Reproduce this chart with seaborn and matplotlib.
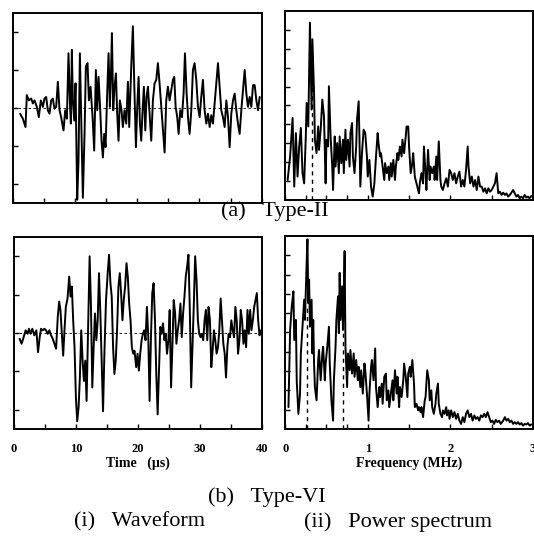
"""
Waveform and power spectrum of Type-II and Type-VI signals.
"""

import numpy as np
import pandas as pd
import matplotlib
matplotlib.use("Agg")
import matplotlib.pyplot as plt
import seaborn as sns

# ---- Type-II waveform (time in us, amplitude) ----
wave2_t = [1.18, 1.61, 2.04, 2.25, 2.57, 2.95, 3.22, 3.49, 3.86, 4.18, 4.50, 4.83, 5.09, 5.36, 5.63,
           5.90, 6.17, 6.43, 6.70, 6.97, 7.24, 7.51, 7.77, 8.15, 8.42, 8.69, 8.95, 9.17, 9.33, 9.49,
           9.65, 9.87, 10.08, 10.35, 10.56, 10.78, 10.99, 11.26, 11.53, 11.74, 12.01, 12.23, 12.49,
           12.82, 13.08, 13.35, 13.57, 13.78, 14.05, 14.26, 14.48, 14.69, 14.91, 15.17, 15.39, 15.60,
           15.76, 15.93, 16.14, 16.35, 16.57, 16.78, 16.99, 17.21, 17.48, 17.69, 17.96, 18.23, 18.50,
           18.71, 19.04, 19.30, 19.52, 19.79, 20.00, 20.22, 20.43, 20.64, 20.86, 21.07, 21.29, 21.50,
           21.72, 21.98, 22.25, 22.52, 22.79, 23.06, 23.32, 23.59, 23.86, 24.13, 24.40, 24.66, 24.93,
           25.20, 25.47, 25.74, 25.95, 26.17, 26.43, 26.65, 26.92, 27.19, 27.45, 27.67, 27.94, 28.20,
           28.42, 28.69, 28.95, 29.22, 29.49, 29.76, 30.03, 30.29, 30.56, 30.83, 31.10, 31.37, 31.64,
           31.90, 32.17, 32.44, 32.71, 32.98, 33.24, 33.51, 33.78, 34.05, 34.32, 34.59, 34.85, 35.12,
           35.39, 35.66, 35.93, 36.19, 36.46, 36.73, 37.00, 37.27, 37.54, 37.80, 38.07, 38.34, 38.61,
           38.88, 39.15, 39.41, 39.68]
wave2_v = [-0.16, -0.29, -0.51, 0.33, 0.19, 0.24, 0.11, 0.19, 0.02, -0.25, 0.19, 0.02, 0.24, 0.28, -0.07,
           -0.16, 0.19, 0.24, -0.03, 0.02, 0.68, -0.07, -0.25, -0.60, -0.07, -0.29, 1.43, 0.19, -0.42, 1.52,
           0.19, -0.34, 0.64, -2.42, -1.40, 1.43, -0.25, -2.37, -0.69, 1.08, 1.17, 0.19, 0.55,
           -0.25, -1.13, 0.99, -0.07, 0.81, -0.07, -0.87, -1.31, -0.69, -1.04, 0.37, 1.43, 0.02,
           0.81, 1.96, -0.07, 0.55, 0.90, -0.16, -0.87, 0.19, -0.07, -0.51, -0.07, -0.42, 0.68,
           -0.51, 1.08, 2.14, 0.64, -1.04, 0.02, 0.81, -0.42, -0.87, -0.07, 0.55, -0.60, 0.28,
           0.55, -0.16, -0.87, 0.19, 0.64, 0.73, 1.17, 0.64, 0.02, -0.60, -1.18, 0.19, 0.55,
           0.19, 0.46, 0.73, 0.81, 0.02, -0.25, -0.69, -0.07, -0.25, 0.37, 1.43, 0.37, -0.34,
           -0.69, -0.07, 0.99, 1.17, 0.73, 0.02, -0.25, 0.28, 0.73, -0.07, -0.42, -0.16, -0.51,
           -0.20, -0.42, 0.11, 0.64, 1.17, 0.55, -0.07, -0.25, -0.51, 0.19, -0.25, -1.04, -0.16,
           0.19, 0.37, -0.07, -0.42, -0.69, -0.07, 0.46, 0.99, 0.37, 0.02, 0.28, 0.02, 0.59,
           0.59, 0.19, -0.07, 0.28]

# ---- Type-VI waveform ----
wave6_t = [0.92, 1.24, 1.57, 1.89, 2.21, 2.43, 2.70, 2.97, 3.29, 3.62, 3.89, 4.16, 4.37, 4.64, 4.91,
           5.18, 5.45, 5.72, 5.99, 6.26, 6.53, 6.80, 7.07, 7.29, 7.50, 7.72, 7.94, 8.15, 8.37, 8.64,
           8.91, 9.12, 9.34, 9.55, 9.77, 9.99, 10.20, 10.42, 10.63, 10.85, 11.07, 11.28, 11.50, 11.71,
           11.93, 12.20, 12.42, 12.63, 12.85, 13.06, 13.28, 13.50, 13.71, 13.93, 14.14, 14.36, 14.58,
           14.84, 15.11, 15.33, 15.55, 15.76, 15.98, 16.19, 16.41, 16.62, 16.84, 17.06, 17.27, 17.49,
           17.70, 17.92, 18.14, 18.35, 18.57, 18.79, 19.00, 19.22, 19.43, 19.70, 19.92, 20.13, 20.35,
           20.57, 20.78, 21.00, 21.21, 21.43, 21.65, 21.86, 22.08, 22.29, 22.51, 22.73, 22.94, 23.16,
           23.37, 23.59, 23.81, 24.02, 24.24, 24.45, 24.67, 24.89, 25.10, 25.32, 25.53, 25.75, 25.97,
           26.18, 26.40, 26.61, 26.83, 27.04, 27.26, 27.48, 27.69, 27.91, 28.12, 28.34, 28.56, 28.77,
           28.99, 29.20, 29.42, 29.64, 29.85, 30.07, 30.28, 30.50, 30.72, 30.93, 31.15, 31.36, 31.58,
           31.80, 32.01, 32.23, 32.44, 32.66, 32.88, 33.09, 33.31, 33.52, 33.74, 33.96, 34.17, 34.39,
           34.60, 34.82, 35.03, 35.25, 35.47, 35.68, 35.90, 36.11, 36.33, 36.55, 36.76, 36.98, 37.19,
           37.41, 37.63, 37.84, 38.06, 38.27, 38.49, 38.71, 38.92, 39.14, 39.35, 39.57, 39.78]
wave6_v = [-0.15, -0.28, -0.11, 0.07, -0.02, 0.11, -0.02, 0.11, -0.06, 0.07, -0.50, -0.11, 0.11, 0.07, 0.11,
           0.07, -0.02, 0.07, -0.06, -0.15, -0.28, -0.41, 0.42, 0.82, 0.60, -0.02, -0.59, 0.07, 0.68, 0.90,
           1.47, 0.95, 1.21, 0.33, -0.37, -1.68, -2.30, -1.95, -1.16, 0.07, -0.72, -1.25, -0.72, -1.77,
           -0.11, 2.00, 0.68, -1.42, -0.37, 0.51, -0.19, 0.33, 1.56, 0.51, -0.72, -2.04, -0.54,
           0.86, 1.56, 2.04, 1.30, 0.95, -0.37, -1.07, -0.72, 0.07, 1.21, 1.56, 1.04, 0.33,
           0.86, 1.21, 1.82, 1.47, 0.77, 0.33, -0.37, -0.54, -0.46, -0.89, -0.54, -0.98, -0.54,
           -0.19, -0.02, 0.07, -0.19, 0.68, -0.11, -1.77, -0.11, 1.04, 1.30, 0.33, -1.07, -2.12,
           -0.98, 0.16, -0.02, 0.25, -0.19, -0.02, -0.54, -0.19, 0.60, -1.42, -0.37, 0.86, 0.51,
           -0.28, 0.07, 0.33, 0.77, -0.11, 0.51, 0.95, 1.47, 1.74, 2.04, 0.60, -1.42, -0.37,
           0.77, 2.00, 1.39, 0.33, -0.02, -0.11, -0.02, -0.19, 0.33, 0.60, -0.19, 0.68, 0.33,
           -0.89, -0.46, 0.07, -0.19, -0.54, -0.37, 0.07, 0.90, 0.33, -0.28, -0.54, -1.16, -0.37,
           -0.02, -0.11, 0.33, 0.07, -0.11, 0.68, 0.33, -0.54, -0.19, 0.60, 0.33, -0.28, 0.07,
           -0.37, 0.60, -0.02, 0.60, 0.07, 0.33, 0.68, 0.86, 1.04, 0.33, -0.06, 0.07]

# ---- Type-II power spectrum (MHz, arbitrary units) ----
spec2_f = [0.03, 0.06, 0.09, 0.11, 0.13, 0.15, 0.17, 0.19, 0.21, 0.23, 0.25, 0.26, 0.28, 0.30, 0.31,
           0.32, 0.33, 0.35, 0.36, 0.38, 0.40, 0.41, 0.43, 0.45, 0.47, 0.49, 0.50, 0.52, 0.53, 0.55,
           0.57, 0.58, 0.60, 0.61, 0.63, 0.65, 0.66, 0.68, 0.70, 0.71, 0.73, 0.74, 0.76, 0.78, 0.79,
           0.81, 0.82, 0.84, 0.86, 0.87, 0.89, 0.90, 0.91, 0.93, 0.95, 0.97, 0.99, 1.00, 1.02, 1.04,
           1.06, 1.08, 1.10, 1.12, 1.13, 1.15, 1.16, 1.18, 1.20, 1.21, 1.23, 1.25, 1.26, 1.28, 1.29,
           1.31, 1.33, 1.34, 1.36, 1.37, 1.39, 1.41, 1.42, 1.44, 1.46, 1.47, 1.49, 1.50, 1.52, 1.54,
           1.55, 1.57, 1.58, 1.60, 1.62, 1.63, 1.65, 1.67, 1.68, 1.70, 1.71, 1.73, 1.75, 1.76, 1.78,
           1.80, 1.81, 1.83, 1.84, 1.86, 1.88, 1.89, 1.91, 1.93, 1.95, 1.97, 1.99, 2.01, 2.03, 2.05,
           2.07, 2.09, 2.11, 2.13, 2.15, 2.17, 2.19, 2.21, 2.22, 2.24, 2.26, 2.28, 2.30, 2.32, 2.34,
           2.36, 2.38, 2.40, 2.42, 2.44, 2.46, 2.48, 2.50, 2.52, 2.54, 2.56, 2.58, 2.60, 2.62, 2.64,
           2.66, 2.68, 2.70, 2.72, 2.74, 2.76, 2.78, 2.80, 2.82, 2.84, 2.86, 2.88, 2.90, 2.92, 2.94,
           2.96, 2.98]
spec2_p = [1.06, 2.30, 4.34, 0.71, 3.54, 1.24, 2.83, 3.81, 1.42, 0.88, 3.36, 5.13, 3.89, 9.38, 7.08,
           4.78, 8.50, 5.66, 3.19, 2.48, 3.89, 2.65, 3.72, 5.31, 4.42, 0.88, 3.19, 2.83, 6.02, 3.36,
           1.77, 0.53, 3.36, 1.77, 3.01, 1.42, 3.36, 1.95, 3.19, 1.42, 3.72, 2.12, 3.19, 1.77, 3.54,
           4.07, 2.30, 1.42, 2.83, 4.25, 5.22, 3.19, 0.71, 2.48, 3.72, 3.54, 2.30, 1.24, 2.12, 0.71,
           0.18, 0.88, 2.30, 3.54, 3.01, 2.30, 2.48, 1.77, 1.06, 1.95, 1.42, 1.77, 1.06, 1.95, 1.24,
           2.12, 1.06, 1.77, 2.48, 2.12, 2.83, 2.30, 3.19, 2.48, 3.36, 3.89, 3.89, 2.83, 1.42, 1.95,
           2.48, 1.24, 1.06, 0.71, 0.35, 0.88, 1.42, 0.88, 2.83, 1.42, 0.53, 2.65, 1.06, 1.77, 1.42,
           1.77, 1.06, 2.30, 1.06, 3.10, 1.06, 0.71, 0.53, 0.88, 1.15, 0.71, 1.59, 1.42, 1.06, 1.42,
           0.88, 1.24, 1.50, 0.71, 1.06, 0.71, 1.59, 2.83, 1.77, 0.88, 1.24, 0.71, 1.06, 0.53, 1.24,
           0.71, 0.71, 0.44, 0.62, 0.35, 0.62, 0.44, 0.53, 0.71, 0.88, 1.42, 0.35, 0.44, 0.27, 0.39,
           0.27, 0.35, 0.18, 0.27, 0.39, 0.53, 0.35, 0.18, 0.27, 0.09, 0.18, 0.09, 0.27, 0.12, 0.18,
           0.09, 0.21]

# ---- Type-VI power spectrum ----
spec6_f = [0.04, 0.06, 0.08, 0.10, 0.11, 0.13, 0.14, 0.16, 0.18, 0.19, 0.21, 0.23, 0.24, 0.26, 0.27,
           0.28, 0.29, 0.30, 0.32, 0.33, 0.34, 0.35, 0.36, 0.38, 0.40, 0.41, 0.43, 0.45, 0.46, 0.48,
           0.49, 0.51, 0.53, 0.54, 0.56, 0.58, 0.59, 0.61, 0.62, 0.64, 0.65, 0.66, 0.67, 0.69, 0.70,
           0.71, 0.72, 0.73, 0.75, 0.76, 0.78, 0.79, 0.81, 0.83, 0.84, 0.86, 0.88, 0.89, 0.91, 0.92,
           0.94, 0.96, 0.97, 0.99, 1.01, 1.02, 1.04, 1.05, 1.07, 1.09, 1.10, 1.12, 1.14, 1.15, 1.17,
           1.18, 1.20, 1.22, 1.23, 1.25, 1.26, 1.28, 1.30, 1.31, 1.33, 1.35, 1.36, 1.38, 1.39, 1.41,
           1.43, 1.44, 1.46, 1.48, 1.49, 1.51, 1.52, 1.54, 1.56, 1.57, 1.59, 1.61, 1.62, 1.64, 1.65,
           1.67, 1.69, 1.70, 1.72, 1.74, 1.75, 1.77, 1.78, 1.80, 1.82, 1.83, 1.85, 1.86, 1.88, 1.90,
           1.91, 1.93, 1.95, 1.96, 1.98, 1.99, 2.01, 2.03, 2.05, 2.07, 2.09, 2.11, 2.13, 2.15, 2.17,
           2.19, 2.21, 2.23, 2.25, 2.27, 2.29, 2.31, 2.33, 2.35, 2.37, 2.39, 2.41, 2.43, 2.45, 2.47,
           2.49, 2.51, 2.53, 2.55, 2.57, 2.59, 2.61, 2.64, 2.66, 2.68, 2.70, 2.72, 2.74, 2.76, 2.78,
           2.80, 2.82, 2.84, 2.86, 2.88, 2.90, 2.92, 2.94, 2.96, 2.98]
spec6_p = [1.13, 5.13, 6.35, 7.13, 4.61, 5.65, 2.52, 0.78, 1.83, 3.91, 5.30, 6.70, 5.65, 8.61, 9.83,
           6.52, 7.74, 5.30, 6.70, 3.91, 5.65, 3.39, 2.17, 1.48, 3.57, 4.09, 2.52, 3.91, 4.26, 2.52,
           3.39, 4.26, 5.30, 3.39, 1.48, 0.43, 2.52, 4.26, 5.65, 6.87, 4.96, 8.09, 5.65, 7.39, 5.13,
           7.04, 9.22, 4.26, 2.17, 3.91, 3.04, 4.09, 2.87, 3.91, 2.70, 3.57, 2.52, 3.22, 2.17, 3.04,
           1.83, 3.39, 3.04, 1.83, 0.43, 1.83, 3.22, 3.57, 2.52, 4.17, 2.17, 1.13, 2.17, 1.65, 2.35,
           1.30, 2.70, 2.87, 1.48, 2.00, 1.13, 1.83, 2.52, 1.48, 3.04, 1.83, 2.70, 1.13, 2.17, 1.65,
           2.52, 3.39, 2.70, 1.65, 2.87, 3.22, 2.70, 3.57, 2.35, 1.13, 1.30, 0.96, 1.13, 0.87, 1.13,
           0.61, 1.48, 1.65, 3.04, 2.52, 1.48, 2.00, 1.13, 0.78, 1.30, 1.83, 2.35, 1.30, 0.78, 0.61,
           0.96, 0.78, 1.13, 0.70, 0.96, 0.52, 0.96, 0.61, 0.87, 0.52, 0.78, 0.43, 0.26, 0.61, 0.35,
           0.78, 0.96, 0.61, 0.78, 0.43, 0.70, 0.52, 0.61, 0.43, 0.70, 0.61, 0.78, 0.61, 0.87, 0.61,
           0.35, 0.43, 0.26, 0.47, 0.35, 0.43, 0.26, 0.43, 0.61, 0.43, 0.52, 0.35, 0.43, 0.26, 0.35,
           0.26, 0.35, 0.23, 0.30, 0.17, 0.26, 0.23, 0.30, 0.17, 0.23]

# dominant frequency markers (MHz, height)
marks2_f = [0.32]
marks2_h = [6.5]
marks6_f = [0.27, 0.70]
marks6_h = [6.5, 7.0]

time_ticks = [0, 5, 10, 15, 20, 25, 30, 35, 40]
freq_ticks = [0, 0.25, 0.5, 0.75, 1, 1.5, 2, 2.5, 3]

sns.set_style("ticks")
plt.rcParams['font.family'] = ['Liberation Serif', 'DejaVu Serif']
plt.rcParams['text.color'] = 'black'
plt.rcParams['axes.labelcolor'] = 'black'
plt.rcParams['xtick.color'] = 'black'
plt.rcParams['ytick.color'] = 'black'

fig = plt.figure(figsize=(5.34, 5.45), dpi=100)

# posiciones de los paneles (en fracciones de la figura)
ax_w2 = fig.add_axes([0.024, 0.628, 0.466, 0.349])
ax_s2 = fig.add_axes([0.534, 0.633, 0.464, 0.347])
ax_w6 = fig.add_axes([0.026, 0.213, 0.465, 0.352])
ax_s6 = fig.add_axes([0.534, 0.213, 0.464, 0.354])

LW = 1.4


def style_axes(ax):
    for sp in ax.spines.values():
        sp.set_visible(True)
        sp.set_linewidth(1.4)
        sp.set_color('black')
    ax.tick_params(direction='in', length=3.5, width=1.0, colors='black',
                   labelcolor='black', labelsize=9, top=False, right=False, pad=10)
    ax.set_ylabel('')
    ax.set_xlabel('')


def draw_waveform(ax, t, v, labels=False):
    df = pd.DataFrame({'t': t, 'v': v})
    sns.lineplot(data=df, x='t', y='v', ax=ax, color='black', lw=LW, estimator=None, sort=False)
    ax.axhline(0, color='black', lw=0.6, ls=(0, (3, 3)), zorder=0)
    ax.set_xlim(0, 40)
    ax.set_ylim(-2.5, 2.5)
    ax.set_yticks([-2, -1, 0, 1, 2])
    ax.set_yticklabels([])
    ax.set_xticks(time_ticks)
    style_axes(ax)
    if labels:
        ax.set_xticklabels([str(x) if x % 10 == 0 else '' for x in time_ticks],
                           fontweight='bold')
        ax.set_xlabel('Time   (µs)', fontsize=10, fontweight='bold', labelpad=1)
    else:
        ax.set_xticklabels([])


def draw_spectrum(ax, f, p, mf, mh, labels=False):
    df = pd.DataFrame({'f': f, 'p': p})
    sns.lineplot(data=df, x='f', y='p', ax=ax, color='black', lw=LW, estimator=None, sort=False)
    ax.vlines(mf, 0, mh, colors='black', lw=1.0, linestyles=(0, (3, 3)), zorder=0)
    ax.set_xlim(0, 3)
    ax.set_ylim(0, 10)
    ax.set_yticks(range(1, 10))
    ax.set_yticklabels([])
    ax.set_xticks(freq_ticks)
    style_axes(ax)
    if labels:
        ax.set_xticklabels([str(int(x)) if x == int(x) else '' for x in freq_ticks],
                           fontweight='bold')
        ax.set_xlabel('Frequency (MHz)', fontsize=10, fontweight='bold', labelpad=1)
    else:
        ax.set_xticklabels([])


draw_waveform(ax_w2, wave2_t, wave2_v)
draw_spectrum(ax_s2, spec2_f, spec2_p, marks2_f, marks2_h)
draw_waveform(ax_w6, wave6_t, wave6_v, labels=True)
draw_spectrum(ax_s6, spec6_f, spec6_p, marks6_f, marks6_h, labels=True)

# leyendas de texto
fig.text(275 / 534, 1 - 211 / 545, '(a)   Type-II', ha='center', va='center', fontsize=16)
fig.text(267 / 534, 1 - 497 / 545, '(b)   Type-VI', ha='center', va='center', fontsize=16)
fig.text(140 / 534, 1 - 522 / 545, '(i)   Waveform', ha='center', va='center', fontsize=16)
fig.text(398 / 534, 1 - 522 / 545, '(ii)   Power spectrum', ha='center', va='center', fontsize=16)

fig.savefig('out.png', dpi=100)
